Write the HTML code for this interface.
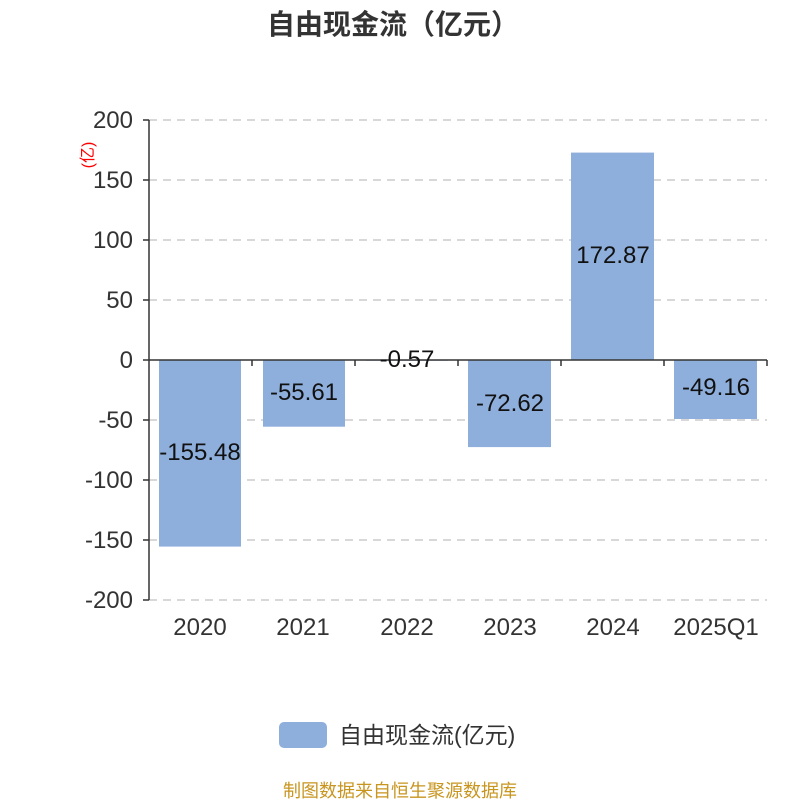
<!DOCTYPE html>
<html><head><meta charset="utf-8"><style>body{margin:0;background:#fff}</style></head><body>
<svg width="800" height="800" xmlns="http://www.w3.org/2000/svg" font-family="'Liberation Sans','Noto Sans CJK SC',sans-serif">
<text x="393" y="34" text-anchor="middle" font-size="28" font-weight="bold" fill="#333">自由现金流（亿元）</text>
<g stroke="#ccc" stroke-width="1.5" stroke-dasharray="8,6">
<line x1="149" y1="120" x2="767" y2="120"/><line x1="149" y1="180" x2="767" y2="180"/>
<line x1="149" y1="240" x2="767" y2="240"/><line x1="149" y1="300" x2="767" y2="300"/>
<line x1="149" y1="420" x2="767" y2="420"/><line x1="149" y1="480" x2="767" y2="480"/>
<line x1="149" y1="540" x2="767" y2="540"/><line x1="149" y1="600" x2="767" y2="600"/>
</g>
<g fill="#8eaedb">
<rect x="159" y="360" width="82" height="186.6"/>
<rect x="263" y="360" width="82" height="66.7"/>
<rect x="366" y="360" width="82" height="0.7"/>
<rect x="468" y="360" width="83" height="87.1"/>
<rect x="571" y="152.6" width="83" height="207.4"/>
<rect x="674" y="360" width="83" height="59"/>
</g>
<g stroke="#333" stroke-width="1.5">
<line x1="149" y1="120" x2="149" y2="600"/>
<line x1="149" y1="360" x2="767" y2="360"/>
<line x1="143" y1="120" x2="149" y2="120"/><line x1="143" y1="180" x2="149" y2="180"/>
<line x1="143" y1="240" x2="149" y2="240"/><line x1="143" y1="300" x2="149" y2="300"/>
<line x1="143" y1="360" x2="149" y2="360"/><line x1="143" y1="420" x2="149" y2="420"/>
<line x1="143" y1="480" x2="149" y2="480"/><line x1="143" y1="540" x2="149" y2="540"/>
<line x1="143" y1="600" x2="149" y2="600"/>
<line x1="252" y1="360" x2="252" y2="366"/><line x1="355" y1="360" x2="355" y2="366"/>
<line x1="458" y1="360" x2="458" y2="366"/><line x1="561" y1="360" x2="561" y2="366"/>
<line x1="664" y1="360" x2="664" y2="366"/><line x1="767" y1="360" x2="767" y2="366"/>
</g>
<g font-size="24" fill="#333" text-anchor="end">
<text x="133" y="128">200</text><text x="133" y="188">150</text><text x="133" y="248">100</text>
<text x="133" y="308">50</text><text x="133" y="368">0</text><text x="133" y="428">-50</text>
<text x="133" y="488">-100</text><text x="133" y="548">-150</text><text x="133" y="608">-200</text>
</g>
<text transform="translate(93,155) rotate(-90)" text-anchor="middle" font-size="16" fill="red">(亿)</text>
<g font-size="24" fill="#333" text-anchor="middle">
<text x="200" y="635">2020</text><text x="303" y="635">2021</text><text x="407" y="635">2022</text>
<text x="510" y="635">2023</text><text x="613" y="635">2024</text><text x="716" y="635">2025Q1</text>
</g>
<g font-size="24" fill="#111" text-anchor="middle">
<text x="200" y="460">-155.48</text><text x="304" y="400">-55.61</text><text x="407" y="367">-0.57</text>
<text x="510" y="411">-72.62</text><text x="613" y="263">172.87</text><text x="716" y="395">-49.16</text>
</g>
<rect x="279" y="722" width="48" height="26" rx="5" fill="#8eaedb"/>
<text x="339" y="743" font-size="23" fill="#333">自由现金流(亿元)</text>
<text x="400" y="797" text-anchor="middle" font-size="18" fill="#c8951f">制图数据来自恒生聚源数据库</text>
</svg>
</body></html>
